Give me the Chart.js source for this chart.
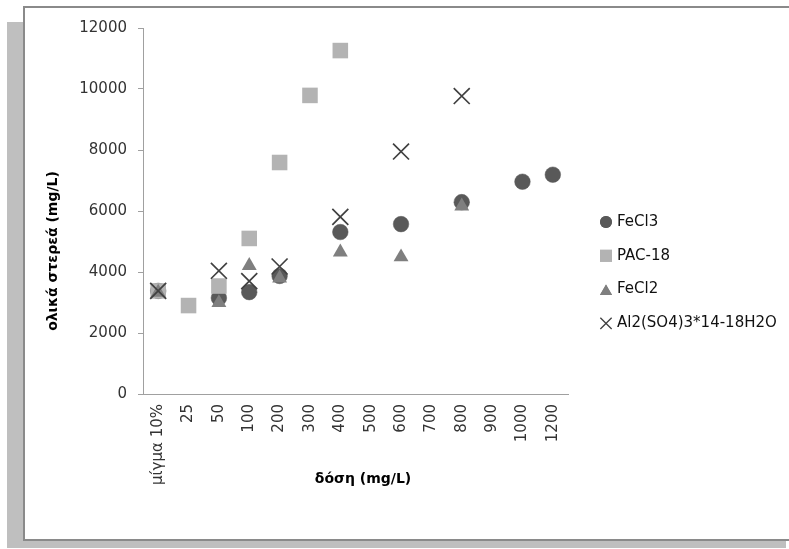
<!DOCTYPE html>
<html>
<head>
<meta charset="utf-8">
<script src="https://cdn.jsdelivr.net/npm/chart.js@4.4.1/dist/chart.umd.min.js"></script>
<style>
  html, body { margin: 0; padding: 0; background: #fff; }
  #wrap { position: relative; width: 789px; height: 549px; overflow: hidden; }
  #shadow { position: absolute; left: 7px; top: 22px; width: 779px; height: 526px; background: #bfbfbf; }
  #frame { position: absolute; left: 23px; top: 6px; width: 800px; height: 531px;
           background: #fff; border-top: 2px solid #8a8a8a; border-left: 2px solid #8a8a8a; border-bottom: 2px solid #8a8a8a; }
  #c { position: absolute; left: 0; top: 0; }
</style>
</head>
<body>
<div id="wrap">
  <div id="shadow"></div>
  <div id="frame"></div>
  <canvas id="c" width="789" height="549"></canvas>
</div>
<script>
const doses = ['μίγμα 10%', '25', '50', '100', '200', '300', '400', '500', '600', '700', '800', '900', '1000', '1200'];

const fecl3 = [3380, null, 3150, 3340, 3870, null, 5310, null, 5570, null, 6290, null, 6960, 7190];
const pac18 = [3380, 2900, 3540, 5100, 7590, 9790, 11260, null, null, null, null, null, null, null];
const fecl2 = [3330, null, 2990, 4210, 3800, null, 4650, null, 4490, null, 6160, null, null, null];
const alum  = [3380, null, 4040, 3700, 4180, null, 5810, null, 7950, null, 9770, null, null, null];

const yTicks = [0, 2000, 4000, 6000, 8000, 10000, 12000];

const FONT = '"DejaVu Sans", sans-serif';
const AXIS = '#a0a0a0';

// legend entries: style, colour, radius of the little marker
const legendItems = [
  { label: 'FeCl3', style: 'circle', color: '#595959', r: 6 },
  { label: 'PAC-18', style: 'rect', color: '#b3b3b3', r: 8.5 },
  { label: 'FeCl2', style: 'triangle', color: '#7f7f7f', r: 7 },
  { label: 'Al2(SO4)3*14-18H2O', style: 'crossRot', color: '#404040', r: 8 },
];

// axis titles and the legend, placed where the reference has them
const extras = {
  id: 'extras',
  afterDraw(chart) {
    const ctx = chart.ctx;
    ctx.save();
    ctx.fillStyle = '#000';
    ctx.font = 'bold 14px ' + FONT;
    ctx.textAlign = 'center';
    ctx.textBaseline = 'middle';
    ctx.fillText('δόση (mg/L)', 363, 479);
    ctx.translate(53, 251);
    ctx.rotate(-Math.PI / 2);
    ctx.fillText('ολικά στερεά (mg/L)', 0, 0);
    ctx.restore();

    ctx.save();
    ctx.font = '15px ' + FONT;
    ctx.textAlign = 'left';
    ctx.textBaseline = 'middle';
    legendItems.forEach((it, i) => {
      const y = 222 + i * 33.8;
      const bw = it.style === 'crossRot' ? 1.3 : 0;
      ctx.fillStyle = it.color;
      ctx.strokeStyle = it.color;
      ctx.lineWidth = bw;
      Chart.helpers.drawPoint(ctx, { pointStyle: it.style, radius: it.r, rotation: 0, borderWidth: bw },
        606, it.style === 'triangle' ? y + 2 : y);
      if (it.style !== 'crossRot') ctx.fill();
      ctx.fillStyle = '#111';
      ctx.fillText(it.label, 617, y);
    });
    ctx.restore();
  }
};

function series(label, data, style, color, radius, order, extra) {
  return Object.assign({
    label, data,
    showLine: false,
    pointStyle: style,
    pointRadius: radius,
    pointHoverRadius: radius,
    pointBackgroundColor: color,
    pointBorderColor: color,
    pointBorderWidth: 0,
    backgroundColor: color,
    borderColor: color,
    order
  }, extra || {});
}

new Chart(document.getElementById('c'), {
  type: 'line',
  data: {
    labels: doses,
    datasets: [
      series('FeCl3', fecl3, 'circle', '#595959', 7.8, 4, { pointBorderWidth: 0.5 }),
      series('PAC-18', pac18, 'rect', '#b3b3b3', 11, 3),
      series('FeCl2', fecl2, 'triangle', '#7f7f7f', 8.6, 2),
      series('Al2(SO4)3*14-18H2O', alum, 'crossRot', '#404040', 11.3, 1, { pointBorderWidth: 1.7 }),
    ]
  },
  options: {
    responsive: false,
    animation: false,
    devicePixelRatio: 1,
    layout: { padding: { left: 0, top: 28, right: 221, bottom: 0 } },
    plugins: { legend: { display: false }, tooltip: { enabled: false } },
    scales: {
      x: {
        type: 'category',
        offset: true,
        afterFit(scale) { scale.height = 155; },
        grid: { display: true, drawOnChartArea: false, drawTicks: false, color: AXIS },
        border: { display: true, color: AXIS, width: 1 },
        ticks: {
          autoSkip: false, minRotation: 90, maxRotation: 90, padding: 10,
          color: '#333', font: { family: FONT, size: 15 }
        }
      },
      y: {
        min: 0, max: 12000,
        afterFit(scale) { scale.width = 143; },
        afterBuildTicks(scale) { scale.ticks = yTicks.map(v => ({ value: v })); },
        grid: { display: true, drawOnChartArea: false, drawTicks: true, tickLength: 5, color: AXIS },
        border: { display: true, color: AXIS, width: 1 },
        ticks: {
          padding: 11, color: '#333', font: { family: FONT, size: 15 },
          callback: v => String(v)
        }
      }
    }
  },
  plugins: [extras]
});
</script>
</body>
</html>
